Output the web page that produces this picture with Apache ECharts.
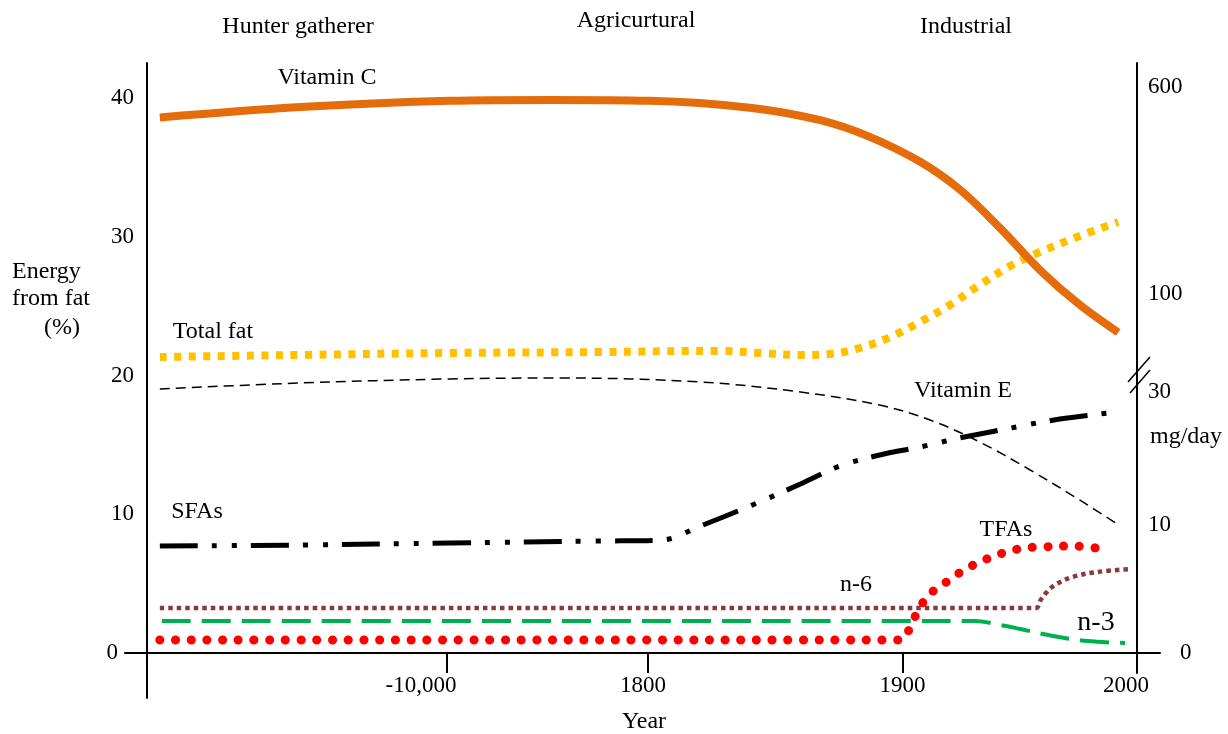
<!DOCTYPE html>
<html>
<head>
<meta charset="utf-8">
<script src="https://cdn.jsdelivr.net/npm/echarts@6/dist/echarts.min.js"></script>
<style>
html, body { margin: 0; padding: 0; background: #fff; }
#chart { width: 1228px; height: 734px; }
</style>
</head>
<body>
<div id="chart"></div>
<script>
// timeline position: 0 = left axis, 100 = year 2000 (schematic, not to scale)
var xTickPos = [30.3, 50.6, 76.3, 100];
var xTickLabels = ['-10,000', '1800', '1900', '2000'];
var leftTicks = [0, 10, 20, 30, 40];
// right axis is broken, so its labels sit at positions on the left scale
var rightTickPos = [0, 9.2, 18.8, 25.9, 40.8];
var rightTickLabels = ['0', '10', '30', '100', '600'];

var vitC_x = [1.3, 15.5, 30.6, 40.7, 50.8, 60.9, 68.0, 73.0, 78.1, 82.1, 86.2, 90.2, 94.2, 98.1];
var vitC_y = [38.6, 39.35, 39.8, 39.86, 39.8, 39.3, 38.4, 37.2, 35.4, 33.4, 30.6, 27.6, 25.1, 23.1];

var fat_x = [1.3, 15.5, 30.6, 45.8, 57.9, 61.9, 66.0, 69.0, 72.0, 75.1, 78.1, 81.1, 84.1, 87.2, 90.2, 94.2, 98.1];
var fat_y = [21.33, 21.48, 21.62, 21.69, 21.77, 21.62, 21.48, 21.55, 21.98, 22.77, 23.86, 25.08, 26.52, 27.89, 28.9, 30.05, 31.06];

var vitE_x = [1.3, 15.5, 30.6, 41.7, 55.9, 66.0, 74.0, 79.1, 84.1, 89.2, 94.2, 98.0];
var vitE_y = [19.03, 19.46, 19.75, 19.82, 19.53, 18.81, 17.87, 16.79, 15.21, 13.19, 11.03, 9.3];

var sfa_x = [1.3, 15.5, 30.6, 45.8, 52.0, 55.9, 60.9, 66.0, 70.0, 74.0, 78.1, 82.1, 86.2, 92.2, 98.1];
var sfa_y = [7.71, 7.78, 7.93, 8.07, 8.14, 9.15, 10.59, 12.18, 13.48, 14.27, 14.85, 15.5, 16.07, 16.86, 17.37];

var tfa_x = [1.3, 40.0, 76.1, 76.6, 77.2, 77.9, 78.9, 80.1, 81.3, 82.7, 84.1, 85.6, 87.1, 88.7, 90.2, 93.4, 96.6];
var tfa_y = [0.94, 0.94, 0.94, 1.15, 2.09, 3.03, 4.18, 4.76, 5.41, 6.05, 6.56, 6.99, 7.35, 7.57, 7.64, 7.71, 7.5];

var n6_x = [1.3, 45.0, 89.8, 90.2, 90.8, 91.7, 93.5, 96.0, 99.3];
var n6_y = [3.24, 3.24, 3.24, 3.75, 4.32, 4.9, 5.48, 5.84, 6.05];

var n3_x = [1.5, 42.0, 83.6, 86.2, 88.2, 91.5, 95.0, 98.8];
var n3_y = [2.31, 2.31, 2.31, 2.02, 1.73, 1.23, 0.86, 0.72];

function pairs(xs, ys) {
  return xs.map(function (x, i) { return [x, ys[i]]; });
}

var FONT = '"Liberation Serif", "Times New Roman", serif';

function label(text, x, y, size, align) {
  return {
    type: 'text', x: x, y: y, silent: true,
    style: {
      text: text, fill: '#000', font: (size || 24) + 'px ' + FONT,
      textAlign: align || 'center', align: align || 'center',
      textVerticalAlign: 'middle', verticalAlign: 'middle'
    }
  };
}

function lineSeries(name, data, color, width, dash, cap) {
  return {
    name: name, type: 'line', data: data,
    xAxisIndex: 0, yAxisIndex: 0,
    symbol: 'none', smooth: 0.35,
    lineStyle: { color: color, width: width, type: dash, cap: cap || 'butt' }
  };
}

var tickText = { color: '#000', fontSize: 23, fontFamily: FONT };

// year labels in the original sit a little left of their ticks
var xLabelRich = {
  s0: Object.assign({ padding: [0, 52, 0, 0] }, tickText),
  s1: Object.assign({ padding: [0, 10, 0, 0] }, tickText),
  s2: Object.assign({ padding: [0, 0, 0, 0] }, tickText),
  s3: Object.assign({ padding: [0, 22, 0, 0] }, tickText)
};

var myChart = echarts.init(document.getElementById('chart'));

myChart.setOption({
  animation: false,
  backgroundColor: '#fff',
  grid: [
    // plot area + x axis (x axis line at y = 0)
    { left: 125, right: 68, top: 63, bottom: 81, outerBoundsMode: 'none' },
    // right (mg/day) axis
    { left: 125, right: 91, top: 63, bottom: 61, outerBoundsMode: 'none' },
    // left (%) axis, runs below the x axis
    { left: 147, right: 91, top: 63, bottom: 36, outerBoundsMode: 'none' }
  ],
  xAxis: [{
    gridIndex: 0, type: 'value', min: -2.22, max: 102.32,
    splitLine: { show: false },
    axisLine: { onZero: false, lineStyle: { color: '#000', width: 2 } },
    axisTick: { customValues: xTickPos, length: 20, lineStyle: { color: '#000', width: 2 } },
    axisLabel: Object.assign({
      customValues: xTickPos, margin: 21,
      formatter: function (v) {
        var i = xTickPos.indexOf(v);
        return i >= 0 ? '{s' + i + '|' + xTickLabels[i] + '}' : '';
      },
      rich: xLabelRich
    }, tickText)
  }, {
    gridIndex: 1, type: 'value', min: 0, max: 100, show: false
  }, {
    gridIndex: 2, type: 'value', min: 0, max: 100, show: false
  }],
  yAxis: [{
    gridIndex: 0, type: 'value', min: 0, max: 42.52, show: false
  }, {
    gridIndex: 1, type: 'value', position: 'right', min: -1.44, max: 42.52,
    splitLine: { show: false },
    axisLine: { show: true, onZero: false, lineStyle: { color: '#000', width: 2 } },
    axisTick: { show: false },
    axisLabel: Object.assign({
      customValues: rightTickPos, margin: 11,
      formatter: function (v) {
        var i = rightTickPos.indexOf(v);
        if (i < 0) return '';
        return v === 0 ? '{z|' + rightTickLabels[i] + '}' : rightTickLabels[i];
      },
      rich: { z: Object.assign({ padding: [0, 0, 0, 32] }, tickText) }
    }, tickText)
  }, {
    gridIndex: 2, type: 'value', position: 'left', min: -3.24, max: 42.52,
    splitLine: { show: false },
    axisLine: { show: true, onZero: false, lineStyle: { color: '#000', width: 2 } },
    axisTick: { show: false },
    axisLabel: Object.assign({
      customValues: leftTicks, margin: 13,
      formatter: function (v) {
        return v === 0 ? '{z|0}' : String(v);
      },
      rich: { z: Object.assign({ padding: [0, 16, 0, 0] }, tickText) }
    }, tickText)
  }],
  series: [
    lineSeries('Total fat', pairs(fat_x, fat_y), '#FFC000', 8, [7, 7.5]),
    lineSeries('Vitamin C', pairs(vitC_x, vitC_y), '#E46C0A', 8, 'solid'),
    lineSeries('Vitamin E', pairs(vitE_x, vitE_y), '#000', 1.5, [10, 6]),
    lineSeries('SFAs', pairs(sfa_x, sfa_y), '#000', 5, [38, 14, 5, 15, 5, 14]),
    lineSeries('n-6', pairs(n6_x, n6_y), '#8B3A3A', 4.5, [4.5, 4]),
    lineSeries('n-3', pairs(n3_x, n3_y), '#00B050', 4, [29, 11]),
    lineSeries('TFAs', pairs(tfa_x, tfa_y), '#FF0000', 9, [0.1, 15.6], 'round')
  ],
  graphic: [
    label('Hunter gatherer', 298, 27),
    label('Agricurtural', 636, 21),
    label('Industrial', 966, 27),
    label('Vitamin C', 327, 78),
    label('Energy', 12, 272, 24, 'left'),
    label('from fat', 12, 299, 24, 'left'),
    label('(%)', 44, 328, 24, 'left'),
    label('Total fat', 213, 332),
    label('Vitamin E', 963, 391),
    label('SFAs', 197, 512),
    label('TFAs', 1006, 530),
    label('n-6', 856, 585),
    label('n-3', 1096, 623, 28),
    label('mg/day', 1150, 437, 24, 'left'),
    label('Year', 644, 722),
    { type: 'line', silent: true, shape: { x1: 1128, y1: 382, x2: 1150, y2: 357 }, style: { stroke: '#000', lineWidth: 1.5 } },
    { type: 'line', silent: true, shape: { x1: 1130, y1: 393, x2: 1150, y2: 370 }, style: { stroke: '#000', lineWidth: 1.5 } }
  ]
});
</script>
</body>
</html>
